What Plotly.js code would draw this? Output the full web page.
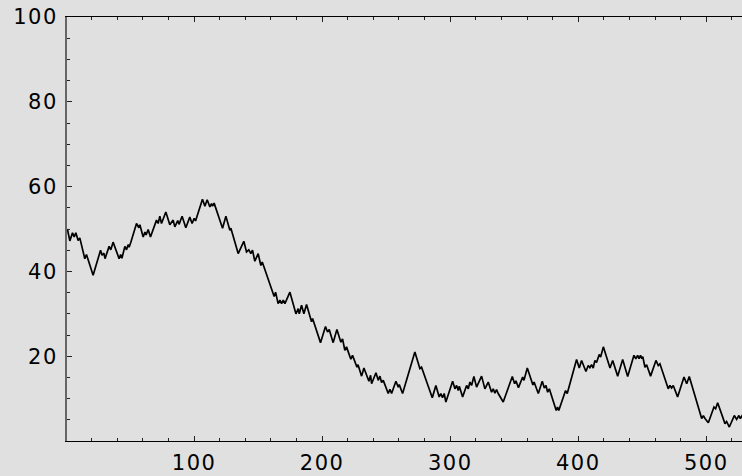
<!DOCTYPE html>
<html>
<head>
<meta charset="utf-8">
<script src="https://cdn.plot.ly/plotly-3.0.1.min.js"></script>
<style>
  html, body { margin: 0; padding: 0; background: #e0e0e0; }
  .xtick text, .ytick text { letter-spacing: 1.5px; }
</style>
</head>
<body>
<div id="chart" style="width:742px;height:476px;"></div>
<script>
// Turning points of the walk
const walkX = [1,2.9,5.0,6.3,7.6,9.4,10.7,14.6,15.9,21.1,26.9,28.1,29.5,30.4,33.6,34.9,36.7,41.4,42.6,43.6,45.9,47.2,48.4,49.2,50.5,55.0,56.8,57.6,60.2,61.6,62.5,64.1,65.9,70.6,71.9,73.2,74.5,77.9,81.0,83.6,84.9,87.2,88.2,90.6,93.5,96.6,98.4,100.0,101.1,106.5,108.4,110.2,112.3,113.6,114.4,115.6,122.2,124.8,127.9,128.7,134.4,138.8,140.9,142.7,144.3,145.6,147.4,150.0,152.1,153.2,154.7,162.5,163.6,165.6,167.0,168.3,169.6,170.9,174.8,179.5,181.3,182.1,183.9,185.7,187.8,191.7,192.5,198.7,202.6,204.2,205.5,208.6,211.5,214.6,215.9,217.7,219.0,222.4,223.7,225.0,227.2,228.0,230.8,232.6,236.5,237.8,238.6,242.0,243.8,245.1,246.4,247.7,251.6,252.9,254.2,257.6,259.4,260.2,262.8,272.4,276.3,277.6,278.9,286.0,288.8,291.4,292.7,294.0,295.3,296.6,301.9,303.7,305.0,306.3,307.1,309.7,312.8,314.1,315.4,316.7,318.5,320.6,324.5,327.1,329.7,332.3,333.6,334.9,336.2,337.5,341.4,348.5,350.3,351.3,353.3,356.6,357.6,360.2,364.6,365.5,368.8,371.9,373.5,374.8,376.1,377.4,382.8,383.8,384.8,390.1,391.4,398.7,400.8,402.6,406.0,407.8,409.1,410.4,411.7,413.0,414.3,416.4,417.5,419.6,424.8,426.9,430.8,434.7,438.6,443.5,445.0,446.4,447.5,448.6,449.7,450.4,452.1,453.4,456.5,460.7,462.5,463.8,470.3,471.6,472.9,474.2,477.6,482.6,484.7,486.7,496.4,497.7,499.0,501.6,506.0,507.3,508.9,514.6,515.9,518.0,521.9,523.7,525.5,526.6,528.0,530];
const walkY = [50,47.2,49.1,48.1,49.1,47.3,47.9,43.0,44.0,39.1,45.0,43.8,44.3,43.0,45.9,45.1,46.9,43.0,44.0,43.1,45.9,45.1,46.3,45.7,46.8,51.3,50.3,51.0,48.1,49.3,48.6,49.9,48.1,52.1,51.3,53.0,51.3,54.0,51.0,52.1,50.5,52.0,51.1,53.0,50.3,52.8,51.3,52.5,51.9,57.0,55.4,56.9,55.2,56.0,55.4,56.1,50.2,53.0,49.7,50.2,44.2,47.1,44.6,45.1,44.2,45.0,42.4,44.2,41.4,42.2,40.9,34.1,35.1,32.4,33.2,32.4,33.2,32.4,35.1,30.0,31.2,30.0,32.0,30.0,32.2,28.1,28.9,23.2,27.0,25.7,26.3,23.2,26.3,23.3,24.1,21.4,22.2,19.3,20.2,19.3,17.4,18.0,15.3,17.2,14.1,15.5,13.5,16.1,14.3,15.3,13.8,14.3,11.2,12.2,11.2,14.1,12.7,13.3,11.2,21.0,17.1,17.4,16.3,10.2,13.1,10.4,11.2,10.2,11.2,9.2,14.1,12.3,13.1,11.9,12.9,10.4,13.1,12.3,13.9,13.1,15.2,12.7,15.3,12.3,13.9,11.5,12.3,11.3,12.1,11.2,9.2,15.2,13.5,14.2,12.6,15.1,14.3,17.2,13.2,13.9,11.2,14.1,12.5,13.1,11.5,12.3,7.2,8.0,7.2,11.9,11.2,19.2,17.2,19.0,16.4,17.8,17.3,18.0,17.2,19.0,18.5,20.4,19.8,22.2,17.2,19.0,15.3,19.2,15.2,20.2,19.4,20.2,19.4,20.2,19.4,19.9,17.4,18.0,15.3,19.0,17.8,18.2,12.3,13.1,12.5,13.1,10.4,15.1,13.5,15.2,5.3,6.0,5.3,4.3,8.0,7.6,9.0,4.1,4.6,3.3,6.0,5.1,6.0,5.3,6.0,5];

const xTickVals = [100, 200, 300, 400, 500];
const yTickVals = [20, 40, 60, 80, 100];

const tickFont = { family: 'DejaVu Sans', size: 21, color: '#000' };

const trace = {
  x: walkX,
  y: walkY,
  type: 'scatter',
  mode: 'lines',
  line: { color: '#000', width: 1.7 },
  hoverinfo: 'skip'
};

const layout = {
  width: 742,
  height: 476,
  margin: { l: 67, r: 0, t: 17, b: 35, pad: 0 },
  paper_bgcolor: '#e0e0e0',
  plot_bgcolor: '#e0e0e0',
  showlegend: false,
  xaxis: {
    range: [0.7, 527.9],
    showline: true, linecolor: '#000', linewidth: 1,
    mirror: 'ticks',
    ticks: 'inside', ticklen: 5, tickwidth: 1, tickcolor: '#222',
    tickmode: 'array', tickvals: xTickVals,
    showgrid: false, zeroline: false,
    tickfont: tickFont,
    ticklabelstandoff: 3,
    minor: { tick0: 0, dtick: 20, ticks: 'inside', ticklen: 3, tickwidth: 1, tickcolor: '#222', showgrid: false }
  },
  yaxis: {
    range: [0, 100],
    showline: true, linecolor: '#666', linewidth: 2,
    mirror: false,
    ticks: 'inside', ticklen: 5, tickwidth: 1, tickcolor: '#222',
    tickmode: 'array', tickvals: yTickVals,
    showgrid: false, zeroline: false,
    tickfont: tickFont,
    ticklabelstandoff: 3,
    minor: { tick0: 0, dtick: 5, ticks: 'inside', ticklen: 3, tickwidth: 1, tickcolor: '#222', showgrid: false }
  }
};

Plotly.newPlot('chart', [trace], layout, { staticPlot: true, displayModeBar: false });
</script>
</body>
</html>
